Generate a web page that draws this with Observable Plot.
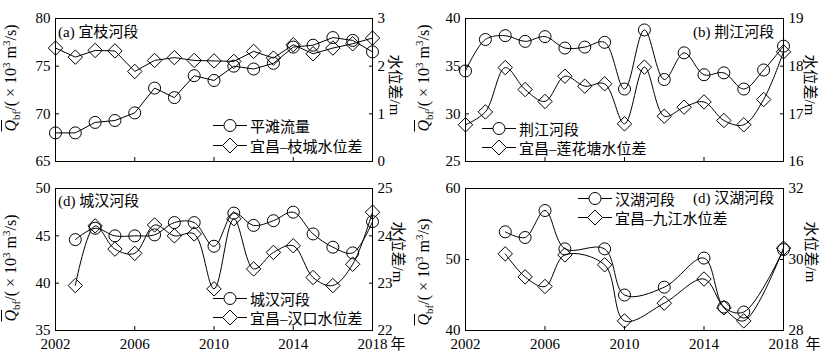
<!DOCTYPE html>
<html>
<head>
<meta charset="utf-8">
<script src="https://cdn.jsdelivr.net/npm/d3@7"></script>
<script src="https://cdn.jsdelivr.net/npm/@observablehq/plot@0.6"></script>
<style>
  body { margin: 0; background: #fff; }
  #wrap { position: relative; width: 830px; height: 357px; overflow: hidden; background: #fff;
          font-family: 'Liberation Serif', 'Noto Sans CJK SC', serif; font-size: 15px; color: #000; }
  #wrap svg { position: absolute; }
  .t { position: absolute; white-space: nowrap; line-height: 1; }
  .c { transform: translate(-50%, -50%); }
  .l { transform: translate(0, -50%); }
  .vl { transform: translate(-50%, -50%) rotate(-90deg); font-size: 16px; }
  .vr { transform: translate(-50%, -50%) rotate(90deg); font-size: 15px; }
  .lg { position: absolute; display: flex; align-items: center; white-space: nowrap; transform: translateY(-50%); }
  sub, sup { font-size: 11px; line-height: 0; }
</style>
</head>
<body>
<div id="wrap"></div>
<script>
// ---- data ----
const xTicks = [2002, 2006, 2010, 2014, 2018];

const yearsA = [2002,2003,2004,2005,2006,2007,2008,2009,2010,2011,2012,2013,2014,2015,2016,2017,2018];
const flowA  = [68.0,68.0,69.1,69.3,70.1,72.7,71.7,74.0,73.5,75.0,74.7,75.3,77.0,77.2,78.0,77.7,76.5];
const diffA  = [2.38,2.19,2.33,2.32,1.89,2.12,2.18,2.12,2.11,2.10,2.31,2.17,2.45,2.26,2.38,2.47,2.59];
const leftTicksA = [65, 70, 75, 80];
const rightTicksA = [0, 1, 2, 3];

const yearsB = [2002,2003,2004,2005,2006,2007,2008,2009,2010,2011,2012,2013,2014,2015,2016,2017,2018];
const flowB  = [34.5,37.8,38.2,37.6,38.1,36.9,37.0,37.5,32.6,38.8,33.6,36.4,34.1,34.3,32.6,34.6,37.1];
const diffB  = [16.77,17.04,17.97,17.51,17.26,17.79,17.58,17.63,16.79,17.98,16.95,17.14,17.25,16.86,16.77,17.30,18.30];
const leftTicksB = [25, 30, 35, 40];
const rightTicksB = [16, 17, 18, 19];

const yearsC = [2003,2004,2005,2006,2007,2008,2009,2010,2011,2012,2013,2014,2015,2016,2017,2018];
const flowC  = [44.6,45.8,45.0,45.0,45.1,46.4,46.4,43.9,47.4,46.1,46.6,47.5,45.2,43.8,43.2,46.5];
const diffC  = [22.95,24.21,23.72,23.63,24.23,24.00,24.04,22.88,24.36,23.30,23.65,23.79,23.12,22.95,23.40,24.50];
const leftTicksC = [35, 40, 45, 50];
const rightTicksC = [22, 23, 24, 25];

const yearsD = [2004,2005,2006,2007,2009,2010,2012,2014,2015,2016,2018];
const flowD  = [53.9,53.1,56.9,51.5,51.5,45.0,46.1,50.2,43.3,42.6,51.4];
const diffD  = [30.16,29.51,29.24,30.13,29.85,28.27,28.77,29.45,28.64,28.27,30.32];
const leftTicksD = [40, 50, 60];
const rightTicksD = [28, 30, 32];

const seriesNames = {
  a: ["平滩流量", "宜昌–枝城水位差"],
  b: ["荆江河段", "宜昌–莲花塘水位差"],
  c: ["城汉河段", "宜昌–汉口水位差"],
  d: ["汉湖河段", "宜昌–九江水位差"]
};
const panelTitles = { a: "(a) 宜枝河段", b: "(b) 荆江河段", c: "(d) 城汉河段", d: "(d) 汉湖河段" };
const yTitleLeft = '<i style="text-decoration:overline">Q</i><sub>bf</sub>/( × 10<sup>3</sup> m<sup>3</sup>/s)';
const yTitleRight = "水位差/m";
const yearUnit = "年";

// ---- drawing ----
const wrap = document.getElementById("wrap");
const FONT = "'Liberation Serif', 'Noto Sans CJK SC', serif";

function layer(cfg, side) {
  const isLeft = side === "left";
  const data = cfg.years.map((x, i) => ({ x, y: isLeft ? cfg.flow[i] : cfg.diff[i] }));
  const ticks = isLeft ? cfg.leftTicks : cfg.rightTicks;
  const marks = [];
  if (isLeft) {
    marks.push(Plot.frame({ stroke: "black", strokeWidth: 1 }));
    marks.push(Plot.axisX({ ticks: xTicks, tickSize: -4, tickFormat: () => "", label: null }));
    if (cfg.xLabels) {
      marks.push(Plot.axisX({ ticks: xTicks, tickSize: 0, tickPadding: 8, label: null, tickFormat: d => String(d) }));
    }
  }
  marks.push(Plot.axisY({ anchor: side, ticks, tickSize: -4, tickFormat: () => "", label: null }));
  marks.push(Plot.axisY({ anchor: side, ticks, tickSize: 0, tickPadding: 5, label: null, tickFormat: d => String(d) }));
  marks.push(Plot.line(data, { x: "x", y: "y", curve: cfg.curve, stroke: "black", strokeWidth: 1 }));
  marks.push(Plot.dot(data, { x: "x", y: "y", r: isLeft ? 6 : 6.5, symbol: isLeft ? "circle" : "diamond2",
                              stroke: "black", fill: "none", strokeWidth: 1 }));
  const svg = Plot.plot({
    width: 415, height: cfg.h,
    marginLeft: cfg.ml, marginRight: cfg.mr, marginTop: cfg.mt, marginBottom: cfg.mb,
    x: { domain: [2002, 2018], axis: null },
    y: { domain: isLeft ? cfg.leftDom : cfg.rightDom, axis: null },
    style: { fontFamily: FONT, fontSize: "15px", background: "transparent", color: "black", overflow: "visible" },
    marks
  });
  svg.style.left = cfg.x0 + "px";
  svg.style.top = cfg.y0 + "px";
  wrap.appendChild(svg);
}

function text(html, x, y, cls) {
  const d = document.createElement("div");
  d.className = "t " + cls;
  d.style.left = x + "px";
  d.style.top = y + "px";
  d.innerHTML = html;
  wrap.appendChild(d);
}

function legendRow(label, symbol, x, y) {
  const d = document.createElement("div");
  d.className = "lg";
  d.style.left = x + "px";
  d.style.top = y + "px";
  const s = symbol === "circle"
    ? '<circle cx="17" cy="8" r="6" fill="none" stroke="black"/>'
    : '<path d="M17,0.5 L24.5,8 L17,15.5 L9.5,8 Z" fill="none" stroke="black"/>';
  const line = symbol === "circle"
    ? '<line x1="0" y1="8" x2="11" y2="8" stroke="black"/><line x1="23" y1="8" x2="34" y2="8" stroke="black"/>'
    : '<line x1="0" y1="8" x2="9.5" y2="8" stroke="black"/><line x1="24.5" y1="8" x2="34" y2="8" stroke="black"/>';
  d.innerHTML = `<svg width="35" height="16" style="position:static;overflow:visible">${line}${s}</svg><span style="margin-left:2px">${label}</span>`;
  wrap.appendChild(d);
}

const panels = [
  { key: "a", x0: 0, y0: 0, h: 178, ml: 55, mr: 43, mt: 18, mb: 17, curve: "linear",
    years: yearsA, flow: flowA, diff: diffA, leftTicks: leftTicksA, rightTicks: rightTicksA,
    leftDom: [65, 80], rightDom: [0, 3], xLabels: false },
  { key: "b", x0: 415, y0: 0, h: 178, ml: 50, mr: 47, mt: 18, mb: 17, curve: "catmull-rom",
    years: yearsB, flow: flowB, diff: diffB, leftTicks: leftTicksB, rightTicks: rightTicksB,
    leftDom: [25, 40], rightDom: [16, 19], xLabels: false },
  { key: "c", x0: 0, y0: 170, h: 187, ml: 55, mr: 43, mt: 18, mb: 27, curve: "catmull-rom",
    years: yearsC, flow: flowC, diff: diffC, leftTicks: leftTicksC, rightTicks: rightTicksC,
    leftDom: [35, 50], rightDom: [22, 25], xLabels: true },
  { key: "d", x0: 415, y0: 170, h: 187, ml: 50, mr: 47, mt: 18, mb: 27, curve: "catmull-rom",
    years: yearsD, flow: flowD, diff: diffD, leftTicks: leftTicksD, rightTicks: rightTicksD,
    leftDom: [40, 60], rightDom: [28, 32], xLabels: true }
];

for (const p of panels) {
  layer(p, "left");
  layer(p, "right");
}

// axis titles
text(yTitleLeft, 11, 78, "vl");
text(yTitleLeft, 424, 78, "vl");
text(yTitleLeft, 11, 268, "vl");
text(yTitleLeft, 424, 272, "vl");
text(yTitleRight, 394, 85, "vr");
text(yTitleRight, 809, 85, "vr");
text(yTitleRight, 397, 252, "vr");
text(yTitleRight, 810, 252, "vr");
text(yearUnit, 398, 344, "c");
text(yearUnit, 813, 344, "c");

// panel labels
text(panelTitles.a, 58, 32, "l");
text(panelTitles.b, 693, 32, "l");
text(panelTitles.c, 58, 201, "l");
text(panelTitles.d, 693, 198, "l");

// legends
legendRow(seriesNames.a[0], "circle", 213, 125);
legendRow(seriesNames.a[1], "diamond", 213, 145);
legendRow(seriesNames.b[0], "circle", 482, 128);
legendRow(seriesNames.b[1], "diamond", 482, 147);
legendRow(seriesNames.c[0], "circle", 213, 298);
legendRow(seriesNames.c[1], "diamond", 213, 317);
legendRow(seriesNames.d[0], "circle", 578, 198);
legendRow(seriesNames.d[1], "diamond", 578, 217);
</script>
</body>
</html>
